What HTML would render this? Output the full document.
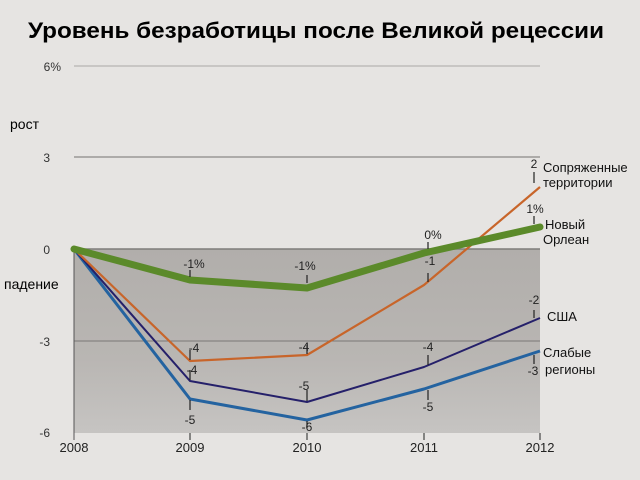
<!DOCTYPE html>
<html><head><meta charset="utf-8"><style>
html,body{margin:0;padding:0;background:#e5e3e1}
svg{display:block;font-family:"Liberation Sans",sans-serif}
</style></head><body>
<svg width="640" height="480" viewBox="0 0 640 480">
<defs>
<linearGradient id="g" x1="0" y1="0" x2="0" y2="1">
<stop offset="0" stop-color="#b1aeab"/><stop offset="0.6" stop-color="#b9b6b3"/><stop offset="1" stop-color="#c6c4c2"/>
</linearGradient>
</defs>
<rect width="640" height="480" fill="#e6e4e2"/>
<text x="28" y="38" font-size="22" font-weight="bold" textLength="576" lengthAdjust="spacingAndGlyphs">Уровень безработицы после Великой рецессии</text>
<rect x="74" y="249" width="466" height="184" fill="url(#g)"/>
<line x1="74" y1="66" x2="540" y2="66" stroke="#a9a7a5" stroke-width="1"/>
<line x1="74" y1="157" x2="540" y2="157" stroke="#9a9896" stroke-width="1.5"/>
<line x1="74" y1="249" x2="540" y2="249" stroke="#7f7d7b" stroke-width="1.5"/>
<line x1="74" y1="341" x2="540" y2="341" stroke="#7a7876" stroke-width="1"/>
<line x1="74" y1="249" x2="74" y2="440" stroke="#555" stroke-width="1"/>
<g font-size="12" fill="#333" text-anchor="end">
<text x="61" y="71">6%</text><text x="50" y="162">3</text><text x="50" y="254">0</text><text x="50" y="346">-3</text><text x="50" y="437">-6</text>
</g>
<text x="10" y="129" font-size="14">рост</text>
<text x="4" y="289" font-size="14">падение</text>
<g stroke="#444" stroke-width="1.2">
<line x1="190" y1="433" x2="190" y2="440"/><line x1="307" y1="433" x2="307" y2="440"/><line x1="424" y1="433" x2="424" y2="440"/><line x1="540" y1="433" x2="540" y2="440"/>
</g>
<g font-size="13" fill="#222" text-anchor="middle">
<text x="74" y="452">2008</text><text x="190" y="452">2009</text><text x="307" y="452">2010</text><text x="424" y="452">2011</text><text x="540" y="452">2012</text>
</g>
<g fill="none" stroke-linejoin="round">
<polyline points="74,249 190,399 307,420 424,389 540,351" stroke="#2463a0" stroke-width="3"/>
<polyline points="74,249 190,381 307,402 424,367 540,318" stroke="#25206a" stroke-width="2"/>
<polyline points="74,249 190,361 307,355 424,285 540,187" stroke="#c8652a" stroke-width="2.2"/>
<polyline points="74,249 190,280 307,288 424,253 540,227" stroke="#5b8a2a" stroke-width="7" stroke-linecap="round"/>
</g>
<g stroke="#222" stroke-width="1.2">
<line x1="190" y1="270" x2="190" y2="277"/><line x1="307" y1="275" x2="307" y2="283"/>
<line x1="190" y1="350" x2="190" y2="360"/><line x1="307" y1="345" x2="307" y2="354"/>
<line x1="190" y1="370" x2="190" y2="380"/><line x1="307" y1="390" x2="307" y2="401"/>
<line x1="190" y1="400" x2="190" y2="410"/><line x1="307" y1="421" x2="307" y2="428"/>
<line x1="428" y1="242" x2="428" y2="249"/><line x1="428" y1="273" x2="428" y2="282"/>
<line x1="428" y1="355" x2="428" y2="365"/><line x1="428" y1="390" x2="428" y2="400"/>
<line x1="534" y1="172" x2="534" y2="183"/><line x1="534" y1="216" x2="534" y2="224"/>
<line x1="534" y1="310" x2="534" y2="318"/><line x1="534" y1="355" x2="534" y2="364"/>
</g>
<g font-size="12" fill="#222" text-anchor="middle">
<text x="194" y="268">-1%</text><text x="305" y="270">-1%</text>
<text x="194" y="352">-4</text><text x="304" y="351">-4</text>
<text x="192" y="374">-4</text><text x="304" y="390">-5</text>
<text x="190" y="424">-5</text><text x="307" y="431">-6</text>
<text x="433" y="239">0%</text><text x="430" y="265">-1</text>
<text x="428" y="351">-4</text><text x="428" y="411">-5</text>
<text x="534" y="168">2</text><text x="535" y="213">1%</text>
<text x="534" y="304">-2</text><text x="533" y="375">-3</text>
</g>
<g font-size="13" fill="#111">
<text x="543" y="172">Сопряженные</text><text x="543" y="187">территории</text>
<text x="545" y="229">Новый</text><text x="543" y="244">Орлеан</text>
<text x="547" y="321">США</text>
<text x="543" y="357">Слабые</text><text x="545" y="374">регионы</text>
</g>
</svg>
</body></html>
